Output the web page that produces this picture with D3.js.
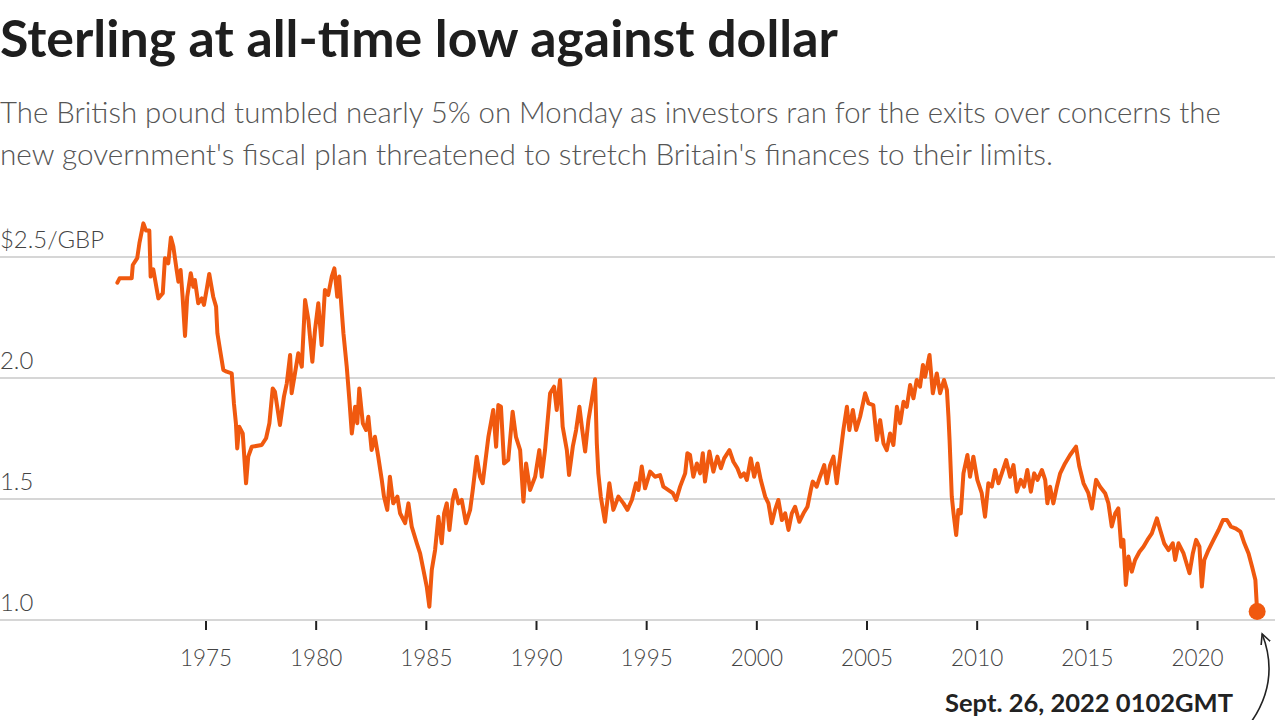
<!DOCTYPE html>
<html>
<head>
<meta charset="utf-8">
<script src="https://cdn.jsdelivr.net/npm/d3@7"></script>
<style>
  html, body { margin: 0; padding: 0; background: #fff; }
  svg { display: block; font-family: Lato, "Open Sans", sans-serif; }
</style>
</head>
<body>
<div id="chart"></div>
<script>
// GBP/USD, decimal year and dollars per pound
var years = [
  1971.0, 1971.1, 1971.65, 1971.7, 1971.9, 1972.0, 1972.18, 1972.3, 1972.45, 1972.51,
  1972.63, 1972.86, 1973.06, 1973.16, 1973.31, 1973.43, 1973.54, 1973.69, 1973.77, 1973.87,
  1973.96, 1974.07, 1974.17, 1974.33, 1974.45, 1974.52, 1974.67, 1974.83, 1974.93, 1975.05,
  1975.17, 1975.35, 1975.48, 1975.54, 1975.66, 1975.81, 1975.96, 1976.19, 1976.29, 1976.38,
  1976.44, 1976.53, 1976.69, 1976.84, 1976.94, 1977.10, 1977.55, 1977.75, 1977.90, 1978.05,
  1978.15, 1978.38, 1978.56, 1978.69, 1978.84, 1978.91, 1979.06, 1979.21, 1979.37, 1979.52,
  1979.67, 1979.85, 1979.97, 1980.12, 1980.27, 1980.42, 1980.57, 1980.73, 1980.85, 1980.98,
  1981.07, 1981.18, 1981.26, 1981.41, 1981.53, 1981.64, 1981.79, 1981.89, 1981.98, 1982.14,
  1982.29, 1982.39, 1982.54, 1982.69, 1982.84, 1983.00, 1983.10, 1983.25, 1983.37, 1983.52,
  1983.71, 1983.83, 1984.06, 1984.21, 1984.36, 1984.59, 1984.74, 1984.89, 1985.04, 1985.16,
  1985.27, 1985.42, 1985.57, 1985.72, 1985.83, 1985.95, 1986.07, 1986.22, 1986.33, 1986.48,
  1986.63, 1986.82, 1987.01, 1987.13, 1987.31, 1987.46, 1987.58, 1987.69, 1987.84, 1988.06,
  1988.19, 1988.29, 1988.41, 1988.55, 1988.74, 1988.94, 1989.09, 1989.28, 1989.43, 1989.55,
  1989.73, 1989.96, 1990.15, 1990.26, 1990.41, 1990.64, 1990.82, 1990.94, 1991.09, 1991.21,
  1991.40, 1991.50, 1991.67, 1991.82, 1991.97, 1992.08, 1992.23, 1992.38, 1992.53, 1992.68,
  1992.76, 1992.83, 1992.94, 1993.13, 1993.33, 1993.51, 1993.74, 1993.97, 1994.15, 1994.35,
  1994.54, 1994.65, 1994.80, 1994.95, 1995.18, 1995.40, 1995.63, 1995.78, 1996.01, 1996.21,
  1996.36, 1996.54, 1996.77, 1996.87, 1996.99, 1997.14, 1997.30, 1997.45, 1997.57, 1997.67,
  1997.87, 1998.05, 1998.23, 1998.39, 1998.54, 1998.78, 1998.96, 1999.14, 1999.29, 1999.44,
  1999.57, 1999.75, 1999.90, 2000.05, 2000.20, 2000.40, 2000.55, 2000.70, 2000.85, 2001.00,
  2001.16, 2001.31, 2001.46, 2001.61, 2001.76, 2001.95, 2002.14, 2002.32, 2002.47, 2002.56,
  2002.74, 2002.89, 2003.08, 2003.20, 2003.35, 2003.50, 2003.65, 2003.80, 2003.95, 2004.11,
  2004.22, 2004.38, 2004.53, 2004.71, 2004.94, 2005.09, 2005.31, 2005.47, 2005.62, 2005.77,
  2005.92, 2006.07, 2006.22, 2006.38, 2006.53, 2006.68, 2006.83, 2006.98, 2007.13, 2007.28,
  2007.43, 2007.56, 2007.66, 2007.86, 2008.01, 2008.19, 2008.34, 2008.52, 2008.65, 2008.72,
  2008.77, 2008.83, 2008.87, 2008.95, 2009.07, 2009.17, 2009.28, 2009.40, 2009.58, 2009.70,
  2009.85, 2010.03, 2010.23, 2010.38, 2010.53, 2010.69, 2010.84, 2010.99, 2011.14, 2011.34,
  2011.52, 2011.67, 2011.82, 2012.00, 2012.15, 2012.30, 2012.46, 2012.61, 2012.76, 2012.96,
  2013.11, 2013.21, 2013.33, 2013.48, 2013.64, 2013.79, 2014.01, 2014.24, 2014.51, 2014.66,
  2014.85, 2015.07, 2015.23, 2015.42, 2015.60, 2015.83, 2015.98, 2016.13, 2016.29, 2016.43,
  2016.56, 2016.66, 2016.77, 2016.89, 2017.04, 2017.19, 2017.39, 2017.57, 2017.75, 2017.95,
  2018.18, 2018.33, 2018.51, 2018.71, 2018.90, 2019.01, 2019.16, 2019.39, 2019.66, 2019.81,
  2019.96, 2020.11, 2020.22, 2020.33, 2020.52, 2020.75, 2020.98, 2021.18, 2021.36, 2021.54,
  2021.74, 2021.97, 2022.15, 2022.34, 2022.50, 2022.65, 2022.73
];
var values = [
  2.394, 2.412, 2.412, 2.467, 2.495, 2.557, 2.639, 2.609, 2.609, 2.419,
  2.449, 2.329, 2.350, 2.495, 2.474, 2.581, 2.543, 2.446, 2.398, 2.446,
  2.336, 2.174, 2.336, 2.433, 2.377, 2.405, 2.309, 2.329, 2.302, 2.364,
  2.430, 2.336, 2.295, 2.185, 2.116, 2.033, 2.026, 2.019, 1.895, 1.813,
  1.709, 1.799, 1.771, 1.565, 1.675, 1.716, 1.723, 1.751, 1.813, 1.957,
  1.944, 1.806, 1.923, 1.978, 2.095, 1.937, 2.019, 2.102, 2.047, 2.322,
  2.240, 2.067, 2.198, 2.309, 2.136, 2.364, 2.343, 2.419, 2.453, 2.336,
  2.419, 2.281, 2.185, 2.047, 1.909, 1.771, 1.881, 1.813, 1.957, 1.813,
  1.785, 1.840, 1.702, 1.757, 1.675, 1.579, 1.510, 1.455, 1.592, 1.482,
  1.510, 1.441, 1.400, 1.482, 1.386, 1.317, 1.275, 1.207, 1.138, 1.055,
  1.207, 1.289, 1.427, 1.317, 1.441, 1.482, 1.372, 1.496, 1.537, 1.482,
  1.496, 1.400, 1.455, 1.537, 1.675, 1.592, 1.565, 1.647, 1.757, 1.868,
  1.716, 1.888, 1.881, 1.647, 1.661, 1.861, 1.757, 1.702, 1.489, 1.647,
  1.537, 1.592, 1.702, 1.592, 1.702, 1.937, 1.964, 1.868, 1.992, 1.799,
  1.702, 1.599, 1.716, 1.785, 1.881, 1.799, 1.696, 1.826, 1.909, 1.995,
  1.730, 1.606, 1.510, 1.406, 1.565, 1.455, 1.510, 1.482, 1.455, 1.496,
  1.565, 1.537, 1.634, 1.544, 1.613, 1.592, 1.599, 1.551, 1.537, 1.524,
  1.496, 1.551, 1.606, 1.689, 1.682, 1.592, 1.647, 1.606, 1.689, 1.572,
  1.696, 1.613, 1.675, 1.627, 1.668, 1.702, 1.654, 1.627, 1.592, 1.606,
  1.579, 1.668, 1.592, 1.647, 1.579, 1.510, 1.482, 1.400, 1.455, 1.496,
  1.413, 1.441, 1.372, 1.441, 1.468, 1.406, 1.441, 1.468, 1.537, 1.572,
  1.551, 1.592, 1.640, 1.565, 1.640, 1.675, 1.565, 1.675, 1.785, 1.881,
  1.785, 1.868, 1.785, 1.840, 1.937, 1.895, 1.888, 1.744, 1.826, 1.730,
  1.702, 1.771, 1.723, 1.881, 1.813, 1.902, 1.881, 1.971, 1.916, 1.992,
  1.964, 2.054, 2.005, 2.095, 1.937, 2.019, 1.937, 1.992, 1.950, 1.840,
  1.744, 1.606, 1.510, 1.441, 1.351, 1.455, 1.441, 1.606, 1.682, 1.592,
  1.675, 1.579, 1.524, 1.427, 1.565, 1.551, 1.620, 1.565, 1.606, 1.661,
  1.592, 1.640, 1.530, 1.579, 1.551, 1.620, 1.530, 1.606, 1.579, 1.620,
  1.579, 1.482, 1.551, 1.482, 1.551, 1.606, 1.647, 1.682, 1.716, 1.634,
  1.565, 1.524, 1.461, 1.579, 1.551, 1.524, 1.482, 1.386, 1.441, 1.461,
  1.303, 1.331, 1.145, 1.262, 1.200, 1.248, 1.282, 1.303, 1.331, 1.358,
  1.420, 1.372, 1.317, 1.289, 1.317, 1.248, 1.317, 1.275, 1.193, 1.275,
  1.331, 1.303, 1.138, 1.248, 1.289, 1.331, 1.372, 1.413, 1.413, 1.386,
  1.379, 1.365, 1.317, 1.275, 1.220, 1.165, 1.035
];
var yTicks = [1.0, 1.5, 2.0, 2.5];
var yTickLabels = ["1.0", "1.5", "2.0", "$2.5/GBP"];
var xTicks = [1975, 1980, 1985, 1990, 1995, 2000, 2005, 2010, 2015, 2020];

var title = "Sterling at all-time low against dollar";
var subtitle = [
  "The British pound tumbled nearly 5% on Monday as investors ran for the exits over concerns the",
  "new government's fiscal plan threatened to stretch Britain's finances to their limits."
];
var endNote = "Sept. 26, 2022 0102GMT";

var width = 1280, height = 720;
var orange = "#f0590f";

var svg = d3.select("#chart").append("svg")
    .attr("width", width)
    .attr("height", height);

svg.append("defs").append("marker")
    .attr("id", "arrow-head")
    .attr("viewBox", "0 -6 12 12")
    .attr("refX", 10)
    .attr("refY", 0)
    .attr("markerWidth", 12)
    .attr("markerHeight", 12)
    .attr("markerUnits", "userSpaceOnUse")
    .attr("orient", "auto")
    .append("path")
    .attr("d", "M0,-5L10,0L0,5")
    .attr("fill", "none")
    .attr("stroke", "#222")
    .attr("stroke-width", 1.6);

// shrink or grow a text so it spans the wanted width
function fitText(sel, targetWidth) {
    var size = parseFloat(sel.attr("font-size"));
    var w = sel.node().getComputedTextLength();
    sel.attr("font-size", (size * targetWidth / w).toFixed(2));
    return size * targetWidth / w;
}

var t = svg.append("text")
    .attr("x", 0).attr("y", 57)
    .attr("font-size", 44)
    .attr("font-weight", 700)
    .attr("fill", "#1e1e1e")
    .text(title);
fitText(t, 838);

var subWidths = [1221, 1053];
subtitle.forEach(function (line, i) {
    var s = svg.append("text")
        .attr("x", 0).attr("y", 123 + i * 42)
        .attr("font-size", 27)
        .attr("font-weight", 300)
        .attr("fill", "#555")
        .text(line);
    fitText(s, subWidths[i]);
});

// scales
var x = d3.scaleLinear().domain([1975, 2020]).range([205.5, 1197]);
var y = d3.scaleLinear().domain([1, 2.5]).range([620, 257]);

// grid
svg.append("g")
    .selectAll("line")
    .data(yTicks)
    .join("line")
    .attr("x1", 0)
    .attr("x2", 1275)
    .attr("y1", function (d) { return y(d); })
    .attr("y2", function (d) { return y(d); })
    .attr("stroke", "#c8c8c8")
    .attr("stroke-width", 1.6);

var yLabels = svg.append("g")
    .selectAll("text")
    .data(yTicks)
    .join("text")
    .attr("x", 0)
    .attr("y", function (d) { return y(d) - 9; })
    .attr("font-size", 22)
    .attr("font-weight", 300)
    .attr("fill", "#444")
    .text(function (d, i) { return yTickLabels[i]; });
// size all y labels from the widest one
var ySize = fitText(yLabels.filter(function (d) { return d === 2.5; }), 104);
yLabels.attr("font-size", ySize.toFixed(2));

// x axis
var xAxis = d3.axisBottom(x)
    .tickValues(xTicks)
    .tickFormat(d3.format("d"))
    .tickSize(9)
    .tickPadding(20);

var gx = svg.append("g")
    .attr("transform", "translate(0," + (y(1) + 1) + ")")
    .call(xAxis);
gx.select(".domain").remove();
gx.selectAll(".tick line").attr("stroke", "#222").attr("stroke-width", 2);
gx.selectAll(".tick text")
    .attr("font-family", "Lato, sans-serif")
    .attr("font-size", 22.5)
    .attr("font-weight", 300)
    .attr("fill", "#444");

// the series
var data = years.map(function (yr, i) { return { year: yr, value: values[i] }; });

var line = d3.line()
    .x(function (d) { return x(d.year); })
    .y(function (d) { return y(d.value); });

svg.append("path")
    .datum(data)
    .attr("d", line)
    .attr("fill", "none")
    .attr("stroke", orange)
    .attr("stroke-width", 4)
    .attr("stroke-linejoin", "round")
    .attr("stroke-linecap", "round");

var last = data[data.length - 1];
svg.append("circle")
    .attr("cx", x(last.year))
    .attr("cy", y(last.value))
    .attr("r", 8.5)
    .attr("fill", orange);

// annotation
var note = svg.append("text")
    .attr("x", 1233)
    .attr("y", 712)
    .attr("text-anchor", "end")
    .attr("font-size", 22)
    .attr("font-weight", 700)
    .attr("fill", "#222")
    .text(endNote);
fitText(note, 288);

var ax = x(last.year) + 5;
svg.append("path")
    .attr("d", "M" + (ax - 11) + ",722 Q" + (ax + 18) + ",680 " + ax + "," + (y(1) + 14))
    .attr("fill", "none")
    .attr("stroke", "#222")
    .attr("stroke-width", 1.6)
    .attr("marker-end", "url(#arrow-head)");
</script>
</body>
</html>
